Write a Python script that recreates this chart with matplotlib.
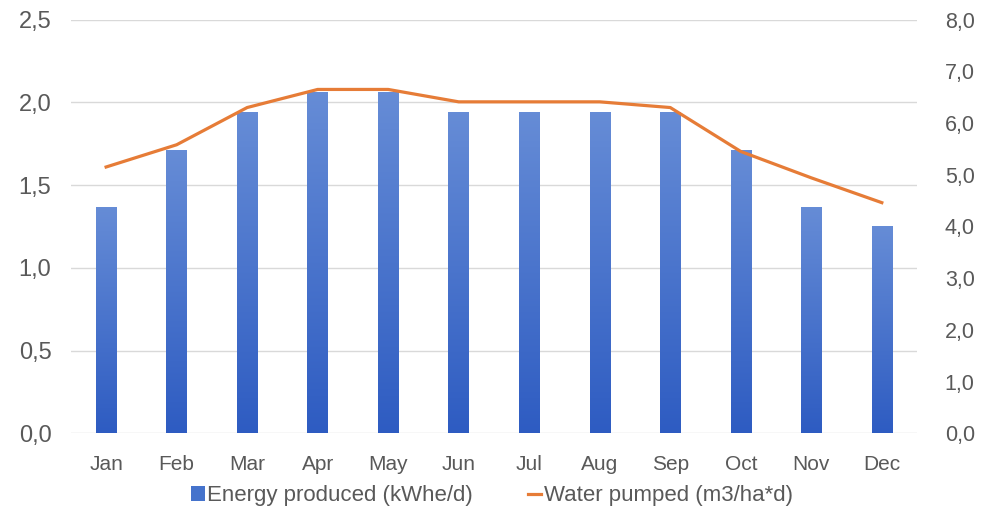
import matplotlib
matplotlib.use("Agg")
import matplotlib.pyplot as plt
import numpy as np
from matplotlib.lines import Line2D
from matplotlib.patches import Patch

months = ["Jan", "Feb", "Mar", "Apr", "May", "Jun", "Jul", "Aug", "Sep", "Oct", "Nov", "Dec"]
energy = [1.37, 1.71, 1.94, 2.06, 2.06, 1.94, 1.94, 1.94, 1.94, 1.71, 1.37, 1.25]
water = [5.15, 5.58, 6.30, 6.65, 6.65, 6.41, 6.41, 6.41, 6.30, 5.45, 4.94, 4.46]

plt.rcParams['font.family'] = ["Liberation Sans Narrow", "Liberation Sans", "DejaVu Sans"]

txt_color = '#595959'
bar_top = (0.40, 0.55, 0.84)
bar_bot = (0.18, 0.36, 0.76)
line_color = '#E67C37'

fig = plt.figure(figsize=(9.84, 5.17), dpi=100)
ax = fig.add_axes([0.072, 0.162, 0.86, 0.80])
ax2 = ax.twinx()

x = np.arange(len(months))
w = 0.29
bars = ax.bar(x, energy, width=w, color=bar_bot, linewidth=0, zorder=2)

# vertical gradient on each bar
grad = np.linspace(0, 1, 256).reshape(-1, 1)
cmap = matplotlib.colors.LinearSegmentedColormap.from_list('b', [bar_bot, bar_top])
for b in bars:
    x0, y0 = b.get_x(), b.get_y()
    im = ax.imshow(grad, cmap=cmap, aspect='auto', origin='lower',
                   extent=[x0, x0 + b.get_width(), y0, y0 + b.get_height()], zorder=2.5)
    im.set_clip_path(b)

ax.set_xlim(-0.5, len(months) - 0.5)
ax.set_ylim(0, 2.5)
ax.set_yticks(np.arange(0, 2.51, 0.5))
ax.set_yticklabels([f"{v:.1f}".replace('.', ',') for v in np.arange(0, 2.51, 0.5)])
ax.grid(axis='y', color='#d9d9d9', linewidth=1, zorder=0)
ax.set_axisbelow(True)

ax2.plot(x, water, color=line_color, linewidth=2.3, zorder=3)
ax2.set_ylim(0, 8)
ax2.set_yticks(np.arange(0, 8.1, 1))
ax2.set_yticklabels([f"{v:.1f}".replace('.', ',') for v in np.arange(0, 8.1, 1)])

ax.set_xticks(x)
ax.set_xticklabels(months)

for a in (ax, ax2):
    for s in a.spines.values():
        s.set_visible(False)
    a.tick_params(length=0, colors=txt_color)
ax.tick_params(axis='y', pad=14, labelsize=17)
ax2.tick_params(axis='y', pad=20, labelsize=15.5)
ax.tick_params(axis='x', pad=16, labelsize=15)

handles = [Patch(facecolor=(0.27, 0.45, 0.80), edgecolor='none'),
           Line2D([0], [0], color=line_color, linewidth=2.3)]
leg = fig.legend(handles, ["Energy produced (kWhe/d)", "Water pumped (m3/ha*d)"],
                 loc='lower center', bbox_to_anchor=(0.5, -0.018), ncol=2, frameon=False,
                 fontsize=16, handlelength=0.6, handleheight=0.6, handletextpad=0.1,
                 columnspacing=2.5, labelcolor=txt_color)

fig.savefig("out.png", dpi=100, facecolor='white')
